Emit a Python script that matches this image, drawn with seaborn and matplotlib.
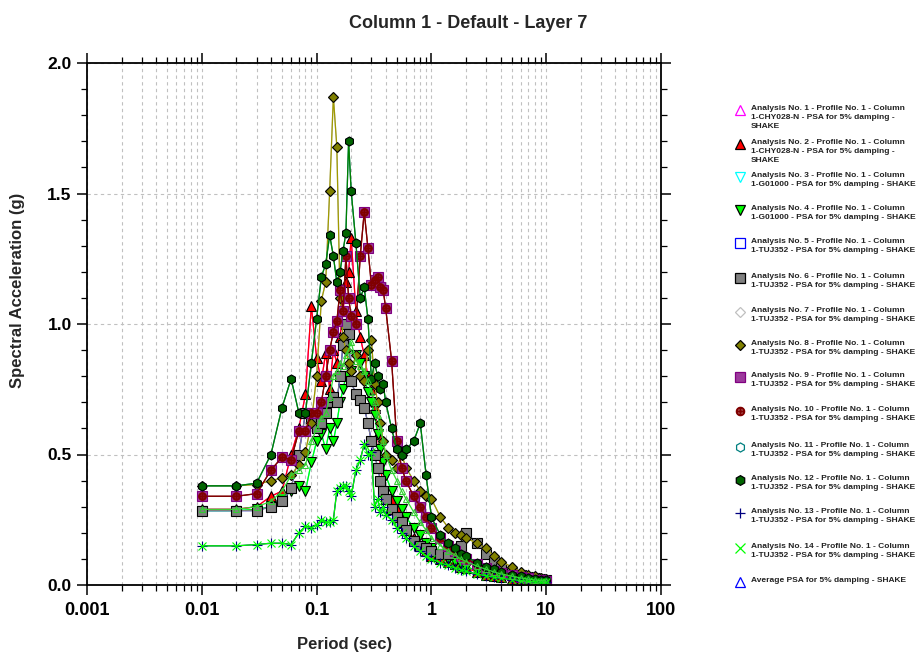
import matplotlib
matplotlib.use("Agg")
import matplotlib.pyplot as plt
import seaborn as sns
from matplotlib.lines import Line2D
from matplotlib.ticker import FixedLocator, FixedFormatter, MultipleLocator, LogLocator, NullFormatter

# ---------------- data ----------------
periods = [0.01, 0.02, 0.03, 0.04, 0.05, 0.06, 0.07, 0.08, 0.09, 0.10,
           0.11, 0.12, 0.13, 0.14, 0.15, 0.16, 0.17, 0.18, 0.19, 0.20,
           0.22, 0.24, 0.26, 0.28, 0.30, 0.32, 0.34, 0.36, 0.38, 0.40,
           0.45, 0.50, 0.55, 0.60, 0.70, 0.80, 0.90, 1.0, 1.2, 1.4,
           1.6, 1.8, 2.0, 2.5, 3.0, 3.5, 4.0, 5.0, 6.0, 7.0,
           8.0, 9.0, 10.0]

psa_chy028 = [0.29, 0.29, 0.30, 0.34, 0.36, 0.50, 0.60, 0.73, 1.07, 0.87,
              0.78, 0.89, 0.75, 0.90, 0.85, 0.95, 1.05, 1.16, 1.20, 1.33,
              1.05, 0.95, 0.88, 0.80, 0.75, 0.68, 0.58, 0.45, 0.38, 0.35,
              0.33, 0.30, 0.26, 0.22, 0.18, 0.15, 0.13, 0.11, 0.10, 0.09,
              0.08, 0.07, 0.065, 0.05, 0.04, 0.035, 0.03, 0.024, 0.02, 0.017,
              0.015, 0.013, 0.012]

psa_g01000 = [0.285, 0.285, 0.29, 0.30, 0.33, 0.36, 0.38, 0.36, 0.47, 0.55,
              0.58, 0.52, 0.60, 0.55, 0.62, 0.70, 0.75, 0.80, 0.78, 0.82,
              0.88, 0.85, 0.80, 0.74, 0.70, 0.65, 0.58, 0.52, 0.47, 0.42,
              0.36, 0.32, 0.29, 0.26, 0.22, 0.19, 0.16, 0.14, 0.12, 0.10,
              0.09, 0.08, 0.07, 0.055, 0.045, 0.04, 0.035, 0.027, 0.022, 0.018,
              0.015, 0.013, 0.012]

psa_tuj352_a = [0.285, 0.285, 0.285, 0.30, 0.32, 0.37, 0.50, 0.66, 0.64, 0.60,
                0.62, 0.66, 0.70, 0.72, 0.70, 0.80, 0.92, 1.00, 0.96, 0.78,
                0.73, 0.71, 0.68, 0.62, 0.55, 0.50, 0.45, 0.40, 0.36, 0.33,
                0.29, 0.26, 0.24, 0.21, 0.17, 0.15, 0.14, 0.13, 0.12, 0.12,
                0.13, 0.15, 0.20, 0.16, 0.12, 0.09, 0.07, 0.05, 0.04, 0.032,
                0.027, 0.023, 0.02]

psa_tuj352_b = [0.38, 0.38, 0.385, 0.40, 0.41, 0.42, 0.46, 0.51, 0.62, 0.80,
                1.09, 1.16, 1.51, 1.87, 1.68, 1.10, 0.95, 0.90, 0.85, 0.82,
                0.88, 0.80, 0.78, 0.90, 0.94, 0.77, 0.70, 0.62, 0.55, 0.50,
                0.48, 0.45, 0.50, 0.45, 0.40, 0.36, 0.34, 0.33, 0.26, 0.22,
                0.20, 0.19, 0.18, 0.16, 0.14, 0.11, 0.09, 0.07, 0.05, 0.04,
                0.033, 0.028, 0.024]

psa_tuj352_c = [0.34, 0.34, 0.35, 0.44, 0.49, 0.48, 0.59, 0.59, 0.66, 0.66,
                0.70, 0.80, 0.90, 0.97, 1.01, 1.13, 1.05, 1.26, 1.10, 1.03,
                1.00, 1.26, 1.43, 1.29, 1.15, 1.17, 1.18, 1.14, 1.13, 1.06,
                0.86, 0.55, 0.45, 0.40, 0.34, 0.30, 0.26, 0.22, 0.18, 0.15,
                0.13, 0.11, 0.10, 0.08, 0.065, 0.055, 0.047, 0.037, 0.03, 0.025,
                0.021, 0.019, 0.017]

psa_tuj352_d = [0.38, 0.38, 0.39, 0.50, 0.68, 0.79, 0.66, 0.66, 0.85, 1.02,
                1.18, 1.23, 1.34, 1.26, 1.16, 1.20, 1.28, 1.35, 1.70, 1.51,
                1.31, 1.10, 1.14, 1.02, 0.79, 0.85, 0.80, 0.75, 0.77, 0.70,
                0.60, 0.52, 0.50, 0.52, 0.55, 0.62, 0.42, 0.26, 0.19, 0.16,
                0.14, 0.12, 0.11, 0.085, 0.07, 0.06, 0.05, 0.04, 0.033, 0.028,
                0.024, 0.021, 0.019]

psa_tuj352_e = [0.15, 0.15, 0.155, 0.16, 0.16, 0.155, 0.20, 0.225, 0.22, 0.23,
                0.25, 0.24, 0.24, 0.25, 0.36, 0.37, 0.38, 0.38, 0.36, 0.34,
                0.44, 0.48, 0.54, 0.50, 0.51, 0.30, 0.33, 0.28, 0.30, 0.27,
                0.25, 0.22, 0.20, 0.18, 0.15, 0.13, 0.11, 0.10, 0.085, 0.075,
                0.065, 0.058, 0.052, 0.042, 0.035, 0.03, 0.026, 0.021, 0.017, 0.014,
                0.012, 0.011, 0.01]

psa_average = [0.29, 0.29, 0.30, 0.32, 0.36, 0.42, 0.44, 0.46, 0.55, 0.60,
               0.64, 0.66, 0.72, 0.80, 0.82, 0.85, 0.84, 0.88, 0.90, 0.93,
               0.86, 0.84, 0.82, 0.78, 0.74, 0.70, 0.65, 0.60, 0.55, 0.50,
               0.44, 0.40, 0.36, 0.33, 0.28, 0.24, 0.21, 0.18, 0.15, 0.13,
               0.115, 0.10, 0.09, 0.072, 0.06, 0.05, 0.043, 0.034, 0.027, 0.022,
               0.019, 0.017, 0.015]

labels = [
    "Analysis No. 1 - Profile No. 1 - Column\n1-CHY028-N - PSA for 5% damping -\nSHAKE",
    "Analysis No. 2 - Profile No. 1 - Column\n1-CHY028-N - PSA for 5% damping -\nSHAKE",
    "Analysis No. 3 - Profile No. 1 - Column\n1-G01000 - PSA for 5% damping - SHAKE",
    "Analysis No. 4 - Profile No. 1 - Column\n1-G01000 - PSA for 5% damping - SHAKE",
    "Analysis No. 5 - Profile No. 1 - Column\n1-TUJ352 - PSA for 5% damping - SHAKE",
    "Analysis No. 6 - Profile No. 1 - Column\n1-TUJ352 - PSA for 5% damping - SHAKE",
    "Analysis No. 7 - Profile No. 1 - Column\n1-TUJ352 - PSA for 5% damping - SHAKE",
    "Analysis No. 8 - Profile No. 1 - Column\n1-TUJ352 - PSA for 5% damping - SHAKE",
    "Analysis No. 9 - Profile No. 1 - Column\n1-TUJ352 - PSA for 5% damping - SHAKE",
    "Analysis No. 10 - Profile No. 1 - Column\n1-TUJ352 - PSA for 5% damping - SHAKE",
    "Analysis No. 11 - Profile No. 1 - Column\n1-TUJ352 - PSA for 5% damping - SHAKE",
    "Analysis No. 12 - Profile No. 1 - Column\n1-TUJ352 - PSA for 5% damping - SHAKE",
    "Analysis No. 13 - Profile No. 1 - Column\n1-TUJ352 - PSA for 5% damping - SHAKE",
    "Analysis No. 14 - Profile No. 1 - Column\n1-TUJ352 - PSA for 5% damping - SHAKE",
    "Average PSA for 5% damping - SHAKE",
]

series_data = [psa_chy028, psa_chy028, psa_g01000, psa_g01000,
               psa_tuj352_a, psa_tuj352_a, psa_tuj352_b, psa_tuj352_b,
               psa_tuj352_c, psa_tuj352_c, psa_tuj352_d, psa_tuj352_d,
               psa_tuj352_e, psa_tuj352_e, psa_average]

# ---------------- styles ----------------
styles = [
    dict(color="#ff00ff", marker="^", mfc="none", mec="#ff00ff", ms=6),
    dict(color="#ff0000", marker="^", mfc="#ff0000", mec="black", ms=6.5),
    dict(color="#00ffff", marker="v", mfc="none", mec="#00ffff", ms=6),
    dict(color="#00ff00", marker="v", mfc="#00ff00", mec="black", ms=6.5),
    dict(color="#0000ff", marker="s", mfc="none", mec="#0000ff", ms=6),
    dict(color="#808080", marker="s", mfc="#808080", mec="black", ms=7),
    dict(color="#c0c0c0", marker="D", mfc="none", mec="#c0c0c0", ms=5),
    dict(color="#a09a00", marker="D", mfc="#808000", mec="black", ms=5),
    dict(color="#800000", marker="s", mfc="#9c3a9c", mec="#800080", ms=6.5),
    dict(color="#800000", marker=r"$\oplus$", mfc="#800000", mec="#800000", ms=5.5),
    dict(color="#008080", marker="h", mfc="none", mec="#008080", ms=6),
    dict(color="#008000", marker="h", mfc="#006400", mec="black", ms=6.5),
    dict(color="#000080", marker="+", mfc="#000080", mec="#000080", ms=7),
    dict(color="#00ff00", marker="x", mfc="#00ff00", mec="#00ff00", ms=6),
    dict(color="#33dd33", marker="^", mfc="none", mec="#33cc33", ms=5),
]
legend_styles = [dict(s) for s in styles]
legend_styles[14] = dict(color="#0000ff", marker="^", mfc="none", mec="#0000ff", ms=6)

# ---------------- figure ----------------
sns.set_style("white")
plt.rcParams["font.family"] = ["Liberation Sans", "DejaVu Sans"]

W, H = 922, 655
fig = plt.figure(figsize=(W / 100, H / 100), dpi=100)
ax_l, ax_r, ax_t, ax_b = 87, 661, 63, 585
ax = fig.add_axes([ax_l / W, 1 - ax_b / H, (ax_r - ax_l) / W, (ax_b - ax_t) / H])

for data, st in zip(series_data, styles):
    sns.lineplot(x=periods, y=data, ax=ax, sort=False, estimator=None,
                 color=st["color"], linewidth=0.9, marker=st["marker"],
                 markersize=st["ms"], markerfacecolor=st["mfc"],
                 markeredgecolor=st["mec"], markeredgewidth=0.8, legend=False)

ax.set_xscale("log")
ax.set_xlim(0.001, 100)
ax.set_ylim(0, 2.0)

ax.xaxis.set_major_locator(FixedLocator([0.001, 0.01, 0.1, 1, 10, 100]))
ax.xaxis.set_major_formatter(FixedFormatter(["0.001", "0.01", "0.1", "1", "10", "100"]))
ax.xaxis.set_minor_locator(LogLocator(base=10, subs=range(2, 10), numticks=20))
ax.xaxis.set_minor_formatter(NullFormatter())
ax.yaxis.set_major_locator(FixedLocator([0, 0.5, 1.0, 1.5, 2.0]))
ax.yaxis.set_major_formatter(FixedFormatter(["0.0", "0.5", "1.0", "1.5", "2.0"]))
ax.yaxis.set_minor_locator(MultipleLocator(0.1))

ax.grid(axis="x", which="both", color="#c0c0c0", linestyle=(0, (3, 3)), linewidth=0.8)
ax.grid(axis="y", which="major", color="#c0c0c0", linestyle=(0, (3, 3)), linewidth=0.8)
ax.set_axisbelow(True)

for sp in ax.spines.values():
    sp.set_color("black")
    sp.set_linewidth(1.3)

ax.tick_params(which="major", direction="out", length=7, width=1.1, colors="black",
               top=True, right=True, bottom=True, left=True)
ax.tick_params(which="minor", direction="out", length=4, width=0.9, colors="black",
               top=True, right=True, bottom=True, left=True)
ax.tick_params(axis="x", which="major", labelsize=13, pad=5)
ax.tick_params(axis="y", which="major", labelsize=12.5, pad=4)
for lbl in ax.get_xticklabels() + ax.get_yticklabels():
    lbl.set_fontweight("bold")

ax.set_xlabel("")
ax.set_ylabel("")
fig.text(345 / W, 1 - 645 / H, "Period (sec)", ha="center", va="center",
         fontsize=12, fontweight="bold")
fig.text(18 / W, 1 - 290 / H, "Spectral Acceleration (g)", ha="center", va="center",
         rotation=90, fontsize=12, fontweight="bold")

fig.text(468 / W, 1 - 23 / H, "Column 1 - Default - Layer 7", ha="center", va="center",
         fontsize=13, fontweight="bold")

# ---------------- legend (manual) ----------------
entry_y = [110, 144, 177, 210, 243, 278, 312, 345, 377, 411, 447, 480, 513, 548, 582]
for lab, st, yy in zip(labels, legend_styles, entry_y):
    fig.add_artist(Line2D([740 / W], [1 - yy / H], transform=fig.transFigure,
                          linestyle="none", marker=st["marker"], markersize=st["ms"] + 0.5,
                          markerfacecolor=st["mfc"], markeredgecolor=st["mec"],
                          markeredgewidth=0.9))
    fig.text(751 / W, 1 - (yy - 4.8) / H, lab, ha="left", va="top", fontsize=6.0,
             fontweight="bold", color="#222222", linespacing=1.35)

fig.savefig("out.png", dpi=100)
